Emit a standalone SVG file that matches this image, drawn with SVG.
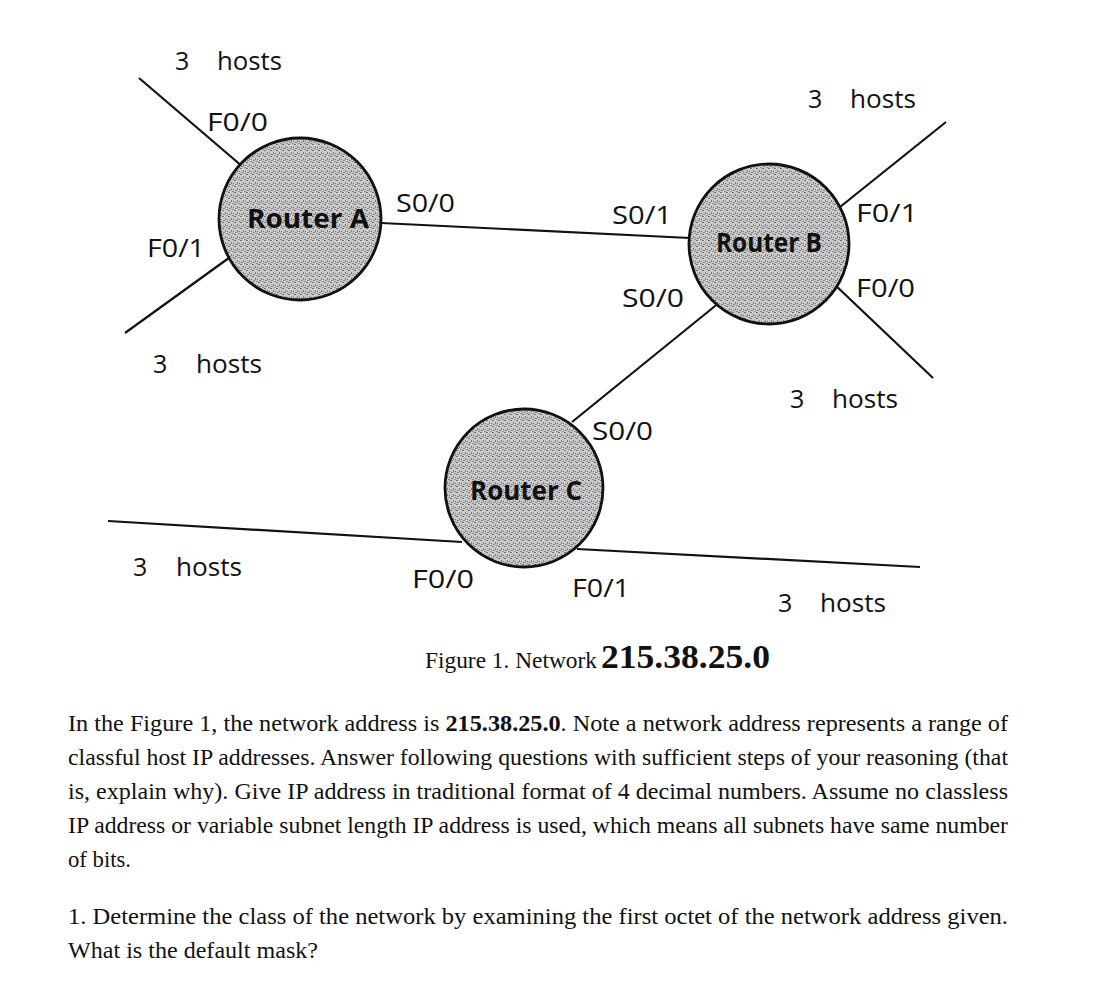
<svg xmlns="http://www.w3.org/2000/svg" width="1111" height="992" viewBox="0 0 1111 992">
<defs>
<pattern id="stip" width="6" height="6" patternUnits="userSpaceOnUse">
<rect width="6" height="6" fill="#cacaca"/>
<rect x="0" y="0" width="2" height="1" fill="#707070"/>
<rect x="3" y="2" width="1" height="2" fill="#7d7d7d"/>
<rect x="1" y="4" width="2" height="1" fill="#828282"/>
<rect x="5" y="3" width="1" height="1" fill="#6f6f6f"/>
<rect x="4" y="5" width="2" height="1" fill="#909090"/>
</pattern>
<style>
.ln{stroke:#111;stroke-width:2.2;fill:none}
.rt{fill:url(#stip);stroke:#111;stroke-width:2.8}
.lb{font-family:"Open Sans","Noto Sans",sans-serif;font-size:25px;fill:#111}
.rl{font-family:"Open Sans","Noto Sans",sans-serif;font-size:26px;font-weight:bold;fill:#111}
.tx{font-family:"Liberation Serif","Times New Roman",serif;font-size:23.5px;fill:#111}
</style>
</defs>
<rect width="1111" height="992" fill="#fff"/>
<g id="connectors">
<line class="ln" x1="139" y1="78" x2="243" y2="167"/>
<line class="ln" x1="125" y1="333" x2="233" y2="255"/>
<line class="ln" x1="381" y1="223" x2="690" y2="238"/>
<line class="ln" x1="840" y1="207" x2="946" y2="122"/>
<line class="ln" x1="833" y1="283" x2="933" y2="378"/>
<line class="ln" x1="720" y1="302" x2="572" y2="422"/>
<line class="ln" x1="108" y1="521" x2="462" y2="542"/>
<line class="ln" x1="577" y1="549" x2="920" y2="567"/>
</g>
<g id="routerA">
<circle class="rt" cx="300" cy="219" r="81"/>
<text class="rl" x="308" y="228" text-anchor="middle" textLength="122" lengthAdjust="spacingAndGlyphs">Router A</text>
</g>
<g id="routerB">
<circle class="rt" cx="769" cy="244" r="80"/>
<text class="rl" x="769" y="252" text-anchor="middle" textLength="106" lengthAdjust="spacingAndGlyphs">Router B</text>
</g>
<g id="routerC">
<circle class="rt" cx="524" cy="488" r="79"/>
<text class="rl" x="526" y="500" text-anchor="middle" textLength="112" lengthAdjust="spacingAndGlyphs">Router C</text>
</g>
<g id="labels">
<text class="lb" x="175" y="70">3</text><text class="lb" x="217" y="70" textLength="65" lengthAdjust="spacingAndGlyphs">hosts</text>
<text class="lb" x="207" y="131" textLength="61" lengthAdjust="spacingAndGlyphs">F0/0</text>
<text class="lb" x="147" y="257" textLength="58" lengthAdjust="spacingAndGlyphs">F0/1</text>
<text class="lb" x="396" y="212" textLength="59" lengthAdjust="spacingAndGlyphs">S0/0</text>
<text class="lb" x="153" y="373">3</text><text class="lb" x="196" y="373" textLength="66" lengthAdjust="spacingAndGlyphs">hosts</text>
<text class="lb" x="808" y="108">3</text><text class="lb" x="850" y="108" textLength="66" lengthAdjust="spacingAndGlyphs">hosts</text>
<text class="lb" x="612" y="224" textLength="60" lengthAdjust="spacingAndGlyphs">S0/1</text>
<text class="lb" x="856" y="222" textLength="62" lengthAdjust="spacingAndGlyphs">F0/1</text>
<text class="lb" x="856" y="297" textLength="59" lengthAdjust="spacingAndGlyphs">F0/0</text>
<text class="lb" x="622" y="307" textLength="62" lengthAdjust="spacingAndGlyphs">S0/0</text>
<text class="lb" x="790" y="408">3</text><text class="lb" x="832" y="408" textLength="66" lengthAdjust="spacingAndGlyphs">hosts</text>
<text class="lb" x="592" y="440" textLength="61" lengthAdjust="spacingAndGlyphs">S0/0</text>
<text class="lb" x="133" y="576">3</text><text class="lb" x="176" y="576" textLength="66" lengthAdjust="spacingAndGlyphs">hosts</text>
<text class="lb" x="412" y="588" textLength="62" lengthAdjust="spacingAndGlyphs">F0/0</text>
<text class="lb" x="572" y="597" textLength="58" lengthAdjust="spacingAndGlyphs">F0/1</text>
<text class="lb" x="778" y="612">3</text><text class="lb" x="820" y="612" textLength="66" lengthAdjust="spacingAndGlyphs">hosts</text>
</g>
<g id="caption">
<text x="425" y="668" font-family="Liberation Serif, serif" font-size="24" fill="#111" textLength="172" lengthAdjust="spacingAndGlyphs">Figure 1. Network</text>
<text x="601" y="668" font-family="Liberation Serif, serif" font-size="33" font-weight="bold" fill="#111" textLength="169" lengthAdjust="spacingAndGlyphs">215.38.25.0</text>
</g>
<g id="body">
<text class="tx" x="68" y="731" textLength="940" lengthAdjust="spacingAndGlyphs">In the Figure 1, the network address is <tspan font-weight="bold">215.38.25.0</tspan>. Note a network address represents a range of</text>
<text class="tx" x="68" y="765" textLength="940" lengthAdjust="spacingAndGlyphs">classful host IP addresses. Answer following questions with sufficient steps of your reasoning (that</text>
<text class="tx" x="68" y="799" textLength="940" lengthAdjust="spacingAndGlyphs">is, explain why). Give IP address in traditional format of 4 decimal numbers. Assume no classless</text>
<text class="tx" x="68" y="833" textLength="940" lengthAdjust="spacingAndGlyphs">IP address or variable subnet length IP address is used, which means all subnets have same number</text>
<text class="tx" x="68" y="867" textLength="63" lengthAdjust="spacingAndGlyphs">of bits.</text>
<text class="tx" x="68" y="924" textLength="940" lengthAdjust="spacingAndGlyphs">1. Determine the class of the network by examining the first octet of the network address given.</text>
<text class="tx" x="68" y="958" textLength="250" lengthAdjust="spacingAndGlyphs">What is the default mask?</text>
</g>
</svg>
